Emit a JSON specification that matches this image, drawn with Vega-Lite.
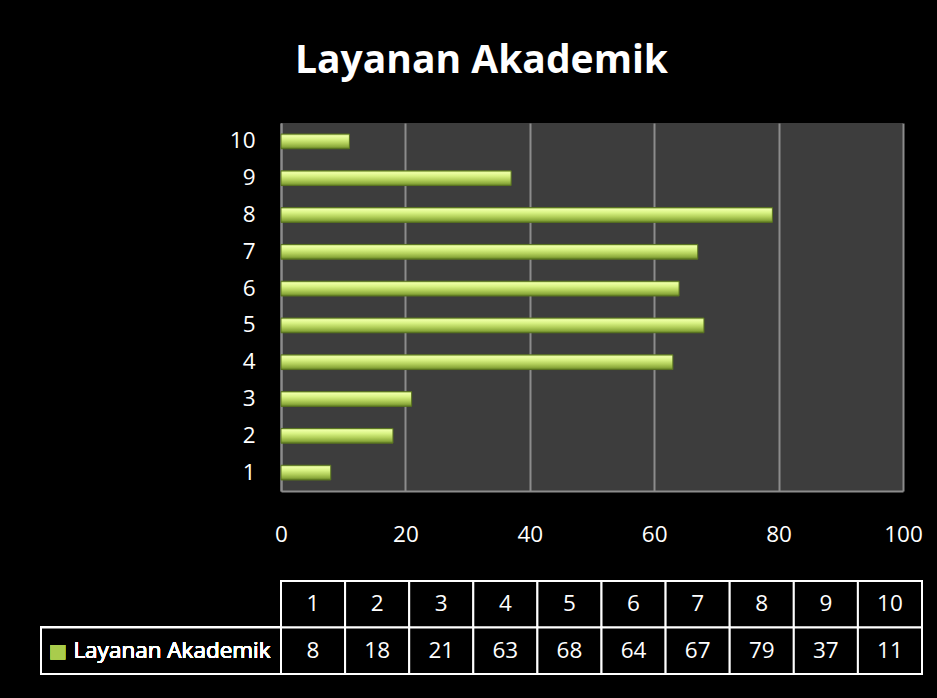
{
  "$schema": "https://vega.github.io/schema/vega-lite/v6.json",
  "background": "#000000",
  "padding": {"left": 40, "top": 42, "right": 14, "bottom": 24},
  "title": {"text": "Layanan Akademik", "font": "Open Sans", "fontSize": 39, "fontWeight": "bold", "color": "#ffffff", "anchor": "middle", "frame": "bounds", "offset": 42},
  "data": {"values": [
    {"cat": 1, "value": 8},
    {"cat": 2, "value": 18},
    {"cat": 3, "value": 21},
    {"cat": 4, "value": 63},
    {"cat": 5, "value": 68},
    {"cat": 6, "value": 64},
    {"cat": 7, "value": 67},
    {"cat": 8, "value": 79},
    {"cat": 9, "value": 37},
    {"cat": 10, "value": 11}
  ]},
  "spacing": 90,
  "bounds": "flush",
  "vconcat": [
    {
      "width": 622,
      "height": 368,
      "view": {"fill": "#3d3d3d", "stroke": null},
      "mark": {
        "type": "bar",
        "fill": {"gradient": "linear", "x1": 0, "y1": 0, "x2": 0, "y2": 1, "stops": [
          {"offset": 0, "color": "#a4c457"},
          {"offset": 0.12, "color": "#eeffa6"},
          {"offset": 0.35, "color": "#d8f283"},
          {"offset": 0.62, "color": "#b3d05b"},
          {"offset": 0.85, "color": "#8dab3d"},
          {"offset": 1, "color": "#5f7b22"}
        ]},
        "stroke": "#5a7420",
        "strokeWidth": 1
      },
      "encoding": {
        "x": {"field": "value", "type": "quantitative", "scale": {"domain": [0, 100], "nice": false},
          "axis": {"values": [0, 20, 40, 60, 80, 100], "grid": true, "gridColor": "#8c8c8c", "gridWidth": 2, "gridOpacity": 1, "domainColor": "#8c8c8c", "domainWidth": 2, "ticks": false, "labelPadding": 32, "labelFlush": false, "title": null, "labelFont": "Open Sans", "labelFontSize": 22.5, "labelColor": "#ffffff"}},
        "y": {"field": "cat", "type": "ordinal", "sort": "descending", "scale": {"paddingInner": 0.6, "paddingOuter": 0.3},
          "axis": {"ticks": false, "labelPadding": 26, "domainColor": "#8c8c8c", "domainWidth": 2, "title": null, "labelFont": "Open Sans", "labelFontSize": 22.5, "labelColor": "#ffffff", "grid": false}}
      }
    },
    {
      "width": 641,
      "height": 93,
      "resolve": {"scale": {"x": "independent"}},
      "layer": [
        {
          "mark": {"type": "rect", "fill": "#000000", "stroke": "#ffffff", "strokeWidth": 2},
          "encoding": {
            "x": {"field": "cat", "type": "ordinal", "scale": {"paddingInner": 0, "paddingOuter": 0}, "axis": null},
            "y": {"datum": "h", "type": "nominal", "scale": {"domain": ["h", "v"], "paddingInner": 0, "paddingOuter": 0}, "axis": null}
          }
        },
        {
          "mark": {"type": "rect", "fill": "#000000", "stroke": "#ffffff", "strokeWidth": 2},
          "encoding": {
            "x": {"field": "cat", "type": "ordinal", "scale": {"paddingInner": 0, "paddingOuter": 0}, "axis": null},
            "y": {"datum": "v", "type": "nominal", "axis": null}
          }
        },
        {
          "mark": {"type": "text", "color": "#ffffff", "font": "Open Sans", "fontSize": 22.5},
          "encoding": {
            "x": {"field": "cat", "type": "ordinal", "scale": {"paddingInner": 0, "paddingOuter": 0}, "axis": null},
            "y": {"datum": "h", "type": "nominal", "axis": null},
            "text": {"field": "cat", "type": "ordinal"}
          }
        },
        {
          "mark": {"type": "text", "color": "#ffffff", "font": "Open Sans", "fontSize": 22.5},
          "encoding": {
            "x": {"field": "cat", "type": "ordinal", "scale": {"paddingInner": 0, "paddingOuter": 0}, "axis": null},
            "y": {"datum": "v", "type": "nominal", "axis": null},
            "text": {"field": "value", "type": "quantitative"}
          }
        },
        {
          "mark": {"type": "rect", "fill": "#000000", "stroke": "#ffffff", "strokeWidth": 2},
          "encoding": {
            "x": {"datum": "Layanan Akademik", "type": "nominal", "scale": {"range": [-240, 0], "paddingInner": 0, "paddingOuter": 0}, "axis": null},
            "y": {"datum": "v", "type": "nominal", "axis": null}
          }
        },
        {
          "mark": {"type": "text", "color": "#ffffff", "font": "Open Sans", "fontSize": 22.5, "dx": 11},
          "encoding": {
            "x": {"datum": "Layanan Akademik", "type": "nominal", "scale": {"range": [-240, 0], "paddingInner": 0, "paddingOuter": 0}, "axis": null},
            "y": {"datum": "v", "type": "nominal", "axis": null},
            "text": {"datum": "Layanan Akademik"}
          }
        },
        {
          "mark": {"type": "text", "color": "#a9cc4c", "font": "DejaVu Sans", "fontSize": 19, "dx": -103, "text": "■"},
          "encoding": {
            "x": {"datum": "Layanan Akademik", "type": "nominal", "scale": {"range": [-240, 0], "paddingInner": 0, "paddingOuter": 0}, "axis": null},
            "y": {"datum": "v", "type": "nominal", "axis": null}
          }
        }
      ]
    }
  ],
  "config": {"view": {"stroke": null}}
}
